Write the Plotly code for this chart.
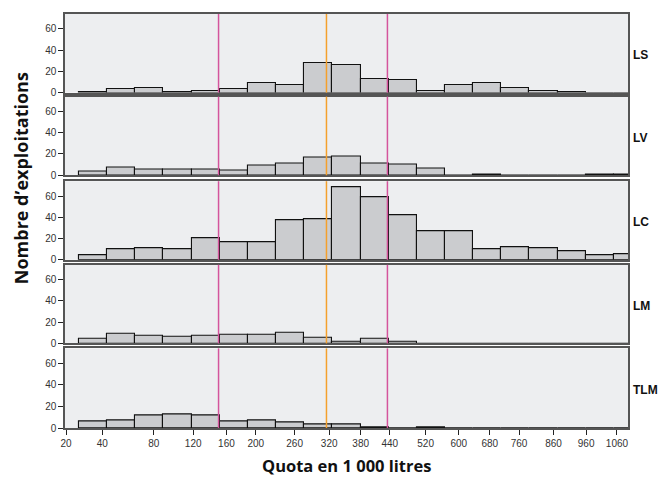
import numpy as np
import plotly.graph_objects as go
from plotly.subplots import make_subplots

# ---- data ----
groups = ["LS", "LV", "LC", "LM", "TLM"]
counts_ls  = [1, 3, 4, 1, 2, 3, 9, 7, 28, 26, 13, 12, 2, 7, 9, 4, 2, 1, 0, 0]
counts_lv  = [3, 7, 5, 5, 5, 4, 9, 11, 17, 18, 11, 10, 6, 0, 1, 0, 0, 0, 1, 1]
counts_lc  = [4, 10, 11, 10, 20, 17, 17, 37, 38, 68, 59, 42, 27, 27, 10, 12, 11, 8, 4, 5]
counts_lm  = [4, 9, 7, 6, 7, 8, 8, 10, 5, 2, 4, 2, 0, 0, 0, 0, 0, 0, 0, 0]
counts_tlm = [6, 7, 12, 13, 12, 6, 7, 5, 3, 3, 1, 0, 1, 0, 0, 0, 0, 0, 0, 0]
series = [counts_ls, counts_lv, counts_lc, counts_lm, counts_tlm]

tick_labels = [20, 40, 80, 120, 160, 200, 260, 320, 380, 440, 520, 600, 680, 760, 860, 960, 1060]
ref_lines = [(150, "#D4549C"), (315, "#F4A02C"), (435, "#D4549C")]

# bins are equal width on a square-root quota scale
bin_first_center = 5.853
bin_width = 1.435
n_bins = len(counts_lc)
centers = [bin_first_center + i * bin_width for i in range(n_bins)]

# ---- figure (page body has an 8px margin, so the figure is 8px smaller/shifted) ----
OFF = 8
W, H = 668 - OFF, 479 - OFF
mt, mb, ml, mr = 12 - OFF, 51, 65 - OFF, 40
ph = H - mt - mb
panels_px = [(12, 91), (95, 174), (180, 259), (264, 343), (348, 428)]  # page pixels

def py(p):
    """page pixel y -> paper y"""
    return ((mt + ph) - (p - OFF)) / ph

def px(p):
    """page pixel x -> paper x"""
    return ((p - OFF) - ml) / (W - ml - mr)

fig = make_subplots(rows=5, cols=1, shared_xaxes=True, vertical_spacing=0.01)

for r, (g, vals) in enumerate(zip(groups, series), start=1):
    fig.add_trace(go.Bar(x=centers, y=vals, width=bin_width,
                         marker=dict(color="#CBCCCF", line=dict(color="#111111", width=1.1)),
                         showlegend=False, hoverinfo="x+y"), row=r, col=1)

for i, (top, bot) in enumerate(panels_px):
    ya = "yaxis" if i == 0 else f"yaxis{i+1}"
    xa = "xaxis" if i == 0 else f"xaxis{i+1}"
    dom = [py(bot), py(top)]
    fig.layout[ya].update(domain=dom, range=[0, 74], tickvals=[0, 20, 40, 60],
                          ticks="outside", ticklen=5, tickwidth=1.2, tickcolor="#222",
                          showline=True, mirror=True, linecolor="#555", linewidth=1.5,
                          showgrid=False, zeroline=False,
                          tickfont=dict(family="Liberation Sans", size=10, color="#333"))
    last = (i == len(panels_px) - 1)
    fig.layout[xa].update(range=[4.42, 33.12], showline=True, mirror=True,
                          linecolor="#555", linewidth=1.5, showgrid=False, zeroline=False,
                          tickvals=list(np.sqrt(tick_labels)),
                          ticktext=[str(t) for t in tick_labels],
                          ticks="outside" if last else "", ticklen=5, tickwidth=1.2,
                          tickcolor="#222", showticklabels=last,
                          tickfont=dict(family="Liberation Sans", size=10, color="#333"))
    fig.add_annotation(text=f"<b>{groups[i]}</b>", xref="paper", yref="paper",
                       x=1.0, y=py((top + bot) / 2 + 2), xanchor="left", yanchor="middle",
                       xshift=3, showarrow=False,
                       font=dict(family="Liberation Sans", size=12, color="#111"))
    for q, col in ref_lines:
        fig.add_shape(type="line", xref=xa.replace("axis", ""),
                      yref=ya.replace("axis", "") + " domain",
                      x0=np.sqrt(q), x1=np.sqrt(q), y0=0, y1=1,
                      line=dict(color=col, width=1.5), layer="above")

fig.add_annotation(text="<b>Quota en 1 000 litres</b>", xref="paper", yref="paper",
                   x=px(346), y=py(466), xanchor="center", yanchor="middle",
                   showarrow=False, font=dict(family="Open Sans", size=16.5, color="#111"))
fig.add_annotation(text="<b>Nombre d’exploitations</b>", xref="paper", yref="paper",
                   x=px(21), y=py(177), textangle=-90,
                   xanchor="center", yanchor="middle",
                   showarrow=False, font=dict(family="Open Sans", size=18, color="#111"))

fig.update_layout(width=W, height=H, margin=dict(l=ml, r=mr, t=mt, b=mb),
                  paper_bgcolor="white", plot_bgcolor="#EDEEF0", bargap=0,
                  showlegend=False)

fig.write_html("out.html")
